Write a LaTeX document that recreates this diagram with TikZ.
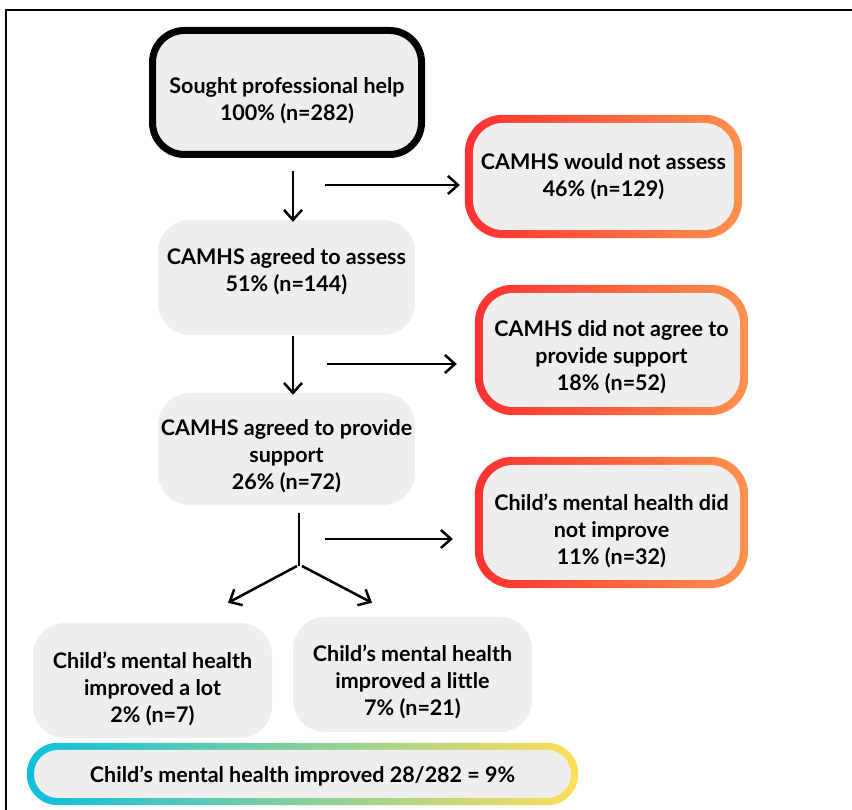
\documentclass[tikz,border=0pt]{standalone}
\usepackage{fontspec}
\setmainfont{Lato}
\usetikzlibrary{arrows.meta,calc,backgrounds}
\definecolor{boxfill}{RGB}{239,238,236}
\definecolor{redA}{RGB}{255,49,49}
\definecolor{orangeA}{RGB}{255,145,77}
\definecolor{cyanA}{RGB}{12,192,223}
\definecolor{yellowA}{RGB}{255,222,89}
\tikzset{
  x=1pt, y=1pt,
  box/.style={rounded corners=32pt, fill=boxfill, inner sep=0pt},
  txt/.style={align=center, inner sep=0pt, font=\bfseries\fontsize{21.5}{27}\selectfont},
  arr/.style={line width=2.5pt, -{Straight Barb[length=10pt,width=18pt]}},
  redring/.style={left color=redA, right color=orangeA, rounded corners=38pt},
}
\begin{document}
\begin{tikzpicture}
\useasboundingbox (0,0) rectangle (852,810);
% frame
\draw[line width=1.6pt] (6,0) -- (6,800) -- (852,800);

% main column
\node[box, draw=black, line width=7pt, minimum width=269pt, minimum height=124pt,
      label={[txt, name=b1t, yshift=-8pt]center:Sought professional help\\100\% (n=282)}]
      (b1) at (287,717.5) {};
\node[box, minimum width=257pt, minimum height=115pt,
      label={[txt, name=b2t, yshift=6pt]center:CAMHS agreed to assess\\51\% (n=144)}]
      (b2) at (286.5,532.5) {};
\node[box, minimum width=257pt, minimum height=112pt,
      label={[txt, name=b3t, yshift=-7pt]center:CAMHS agreed to provide\\support\\26\% (n=72)}]
      (b3) at (286.5,361) {};

% right column
\node[box, rounded corners=30pt, minimum width=261pt, minimum height=107pt,
      label={[txt, name=r1t]center:CAMHS would not assess\\46\% (n=129)}]
      (r1) at (603.5,633.5) {};
\node[box, rounded corners=30pt, minimum width=257pt, minimum height=114pt,
      label={[txt, name=r2t, yshift=-7pt]center:CAMHS did not agree to\\provide support\\18\% (n=52)}]
      (r2) at (611.5,460) {};
\node[box, rounded corners=30pt, minimum width=257pt, minimum height=115pt,
      label={[txt, name=r3t, yshift=-8pt]center:Child’s mental health did\\not improve\\11\% (n=32)}]
      (r3) at (611.5,287.5) {};

% bottom row
\node[box, minimum width=239pt, minimum height=115pt,
      label={[txt, name=l1t, yshift=-8pt]center:Child’s mental health\\improved a lot\\2\% (n=7)}]
      (l1) at (152.5,129.5) {};
\node[box, minimum width=239pt, minimum height=115pt,
      label={[txt, name=l2t, yshift=-7pt]center:Child’s mental health\\improved a little\\7\% (n=21)}]
      (l2) at (412.5,135.5) {};
\node[box, rounded corners=24pt, minimum width=537pt, minimum height=48pt,
      label={[txt, name=tott, yshift=-2pt]center:Child’s mental health improved 28/282 = 9\%}]
      (tot) at (302.5,36) {};

% gradient rings (behind the grey fills)
\begin{pgfonlayer}{background}
  \fill[white] (0,0) rectangle (852,810);
  \foreach \n in {r1,r2,r3}{
    \shade[redring] ([shift={(-8pt,-8pt)}]\n.south west) rectangle ([shift={(8pt,8pt)}]\n.north east);
  }
  \shade[left color=cyanA, right color=yellowA, rounded corners=31pt]
    ([shift={(-7pt,-7pt)}]tot.south west) rectangle ([shift={(7pt,7pt)}]tot.north east);
\end{pgfonlayer}

% connectors
\draw[arr] ($(b1.south)+(6,-13)$) -- ($(b2.north)+(6.5,-2)$);
\draw[arr] ($(b2.south)+(6.5,-1)$) -- ($(b3.north)+(6.5,-2)$);
\coordinate (h1s) at (325,625);
\coordinate (h2s) at (327,446);
\coordinate (h3s) at (325,271);
\draw[arr, shorten >=13pt] (h1s) -- (h1s -| r1.west);
\draw[arr, shorten >=26pt] (h2s) -- (h2s -| r2.west);
\draw[arr, shorten >=30pt] (h3s) -- (h3s -| r3.west);
\coordinate (fork) at (299,244);
\draw[line width=2.5pt] ($(b3.south)+(12.5,-8)$) -- (fork);
\draw[arr] ($(fork)+(-2,0)$) -- ($(l1.north)+(75.5,20)$);
\draw[arr] ($(fork)+(3,0)$) -- ($(l2.north)+(-40.5,14)$);
\end{tikzpicture}
\end{document}
